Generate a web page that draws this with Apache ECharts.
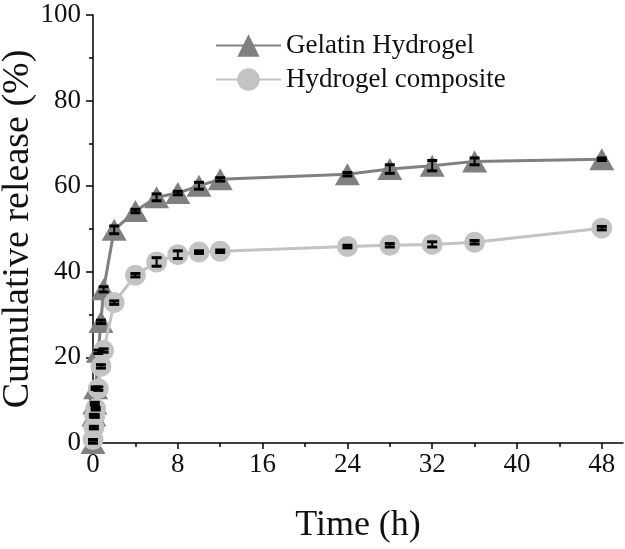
<!DOCTYPE html>
<html>
<head>
<meta charset="utf-8">
<script src="https://cdn.jsdelivr.net/npm/echarts@6/dist/echarts.min.js"></script>
<style>html,body{margin:0;padding:0;background:#fff}#c{width:625px;height:549px}</style>
</head>
<body>
<div id="c"></div>
<script>
const hours = [0, 0.083, 0.167, 0.25, 0.5, 0.75, 1, 2, 4, 6, 8, 10, 12, 24, 28, 32, 36, 48];
const gelatin = [0, 6.4, 9.2, 12.8, 21.3, 28.3, 35.9, 49.8, 54.2, 57.4, 58.4, 60.1, 61.6, 62.8, 64.0, 64.8, 65.8, 66.3];
const gelatinErr = [0, 0.3, 0.3, 0.3, 0.4, 0.4, 0.6, 0.9, 0.4, 0.8, 0.4, 0.8, 0.4, 0.4, 1.0, 1.2, 0.8, 0.3];
const composite = [0.8, 3.6, 6.3, 8.0, 12.7, 17.9, 21.6, 32.8, 39.2, 42.3, 44.0, 44.6, 44.8, 45.9, 46.2, 46.4, 46.9, 50.2];
const compositeErr = [0, 0.3, 0.3, 0.3, 0.4, 0.4, 0.4, 0.4, 0.4, 1.0, 0.9, 0.3, 0.3, 0.3, 0.4, 0.6, 0.4, 0.4];
const xLabelTicks = [0, 8, 16, 24, 32, 40, 48];
const xMinorTicks = [4, 12, 20, 28, 36, 44];
const seriesNames = ['Gelatin Hydrogel', 'Hydrogel composite'];

const FONT = '"Liberation Serif", "Times New Roman", serif';
const GEL_COLOR = '#808080';
const COMP_COLOR = '#c3c3c3';

function pairs(xs, ys) { return xs.map((x, i) => [x, ys[i]]); }
function errData(xs, ys, es) { return xs.map((x, i) => [x, ys[i], es[i]]); }

function renderErr(params, api) {
  const x = api.value(0), y = api.value(1), e = api.value(2);
  const top = api.coord([x, y + e]);
  const bot = api.coord([x, y - e]);
  const hw = 5;
  const st = { stroke: '#000', lineWidth: 3 };
  return {
    type: 'group',
    children: [
      { type: 'line', shape: { x1: top[0], y1: top[1], x2: bot[0], y2: bot[1] }, style: { stroke: '#000', lineWidth: 2 } },
      { type: 'line', shape: { x1: top[0] - hw, y1: top[1], x2: top[0] + hw, y2: top[1] }, style: st },
      { type: 'line', shape: { x1: bot[0] - hw, y1: bot[1], x2: bot[0] + hw, y2: bot[1] }, style: st }
    ]
  };
}

const chart = echarts.init(document.getElementById('c'));
chart.setOption({
  animation: false,
  backgroundColor: '#fff',
  grid: { left: 93, right: 2, top: 15, bottom: 106, containLabel: false, outerBoundsMode: 'none' },
  legend: {
    left: 215, top: 32, orient: 'vertical', itemWidth: 65, itemHeight: 28, itemGap: 7,
    padding: 0,
    data: seriesNames,
    textStyle: { fontFamily: FONT, fontSize: 27, color: '#111' }
  },
  xAxis: [{
    type: 'value', min: 0, max: 50,
    name: 'Time (h)', nameLocation: 'middle', nameGap: 65,
    nameTextStyle: { fontFamily: FONT, fontSize: 36, color: '#111' },
    axisLine: { show: true, lineStyle: { color: '#000', width: 1.5 } },
    axisTick: { show: true, length: 6, inside: false, customValues: xLabelTicks, lineStyle: { color: '#000', width: 1.5 } },
    axisLabel: { customValues: xLabelTicks, margin: 8, fontFamily: FONT, fontSize: 27, color: '#111' },
    splitLine: { show: false }
  }, {
    type: 'value', min: 0, max: 50, position: 'bottom', gridIndex: 0,
    axisLine: { show: false },
    axisTick: { show: true, length: 4, customValues: xMinorTicks, lineStyle: { color: '#000', width: 1.5 } },
    axisLabel: { show: false },
    splitLine: { show: false }
  }],
  yAxis: {
    type: 'value', min: 0, max: 100, interval: 20,
    name: 'Cumulative release (%)', nameLocation: 'middle', nameGap: 56, nameMoveOverlap: false,
    nameTextStyle: { fontFamily: FONT, fontSize: 38, color: '#111' },
    axisLine: { show: true, lineStyle: { color: '#000', width: 1.5 } },
    axisTick: { show: true, length: 7, lineStyle: { color: '#000', width: 1.5 } },
    minorTick: { show: true, splitNumber: 2, length: 4, lineStyle: { color: '#000', width: 1.5 } },
    axisLabel: { margin: 12, fontFamily: FONT, fontSize: 27, color: '#111' },
    splitLine: { show: false },
    minorSplitLine: { show: false }
  },
  series: [
    {
      name: seriesNames[0], type: 'line', data: pairs(hours, gelatin),
      symbol: 'triangle', symbolSize: [25, 22],
      lineStyle: { color: GEL_COLOR, width: 3 },
      itemStyle: { color: GEL_COLOR, borderWidth: 0 },
      z: 2
    },
    {
      name: seriesNames[1], type: 'line', data: pairs(hours, composite),
      symbol: 'circle', symbolSize: 21,
      lineStyle: { color: COMP_COLOR, width: 3 },
      itemStyle: { color: COMP_COLOR, borderWidth: 0 },
      z: 3
    },
    {
      type: 'custom', name: 'gelErr', data: errData(hours, gelatin, gelatinErr),
      renderItem: renderErr, z: 10, silent: true, encode: { x: 0, y: 1 }
    },
    {
      type: 'custom', name: 'compErr', data: errData(hours, composite, compositeErr),
      renderItem: renderErr, z: 10, silent: true, encode: { x: 0, y: 1 }
    }
  ]
});
</script>
</body>
</html>
